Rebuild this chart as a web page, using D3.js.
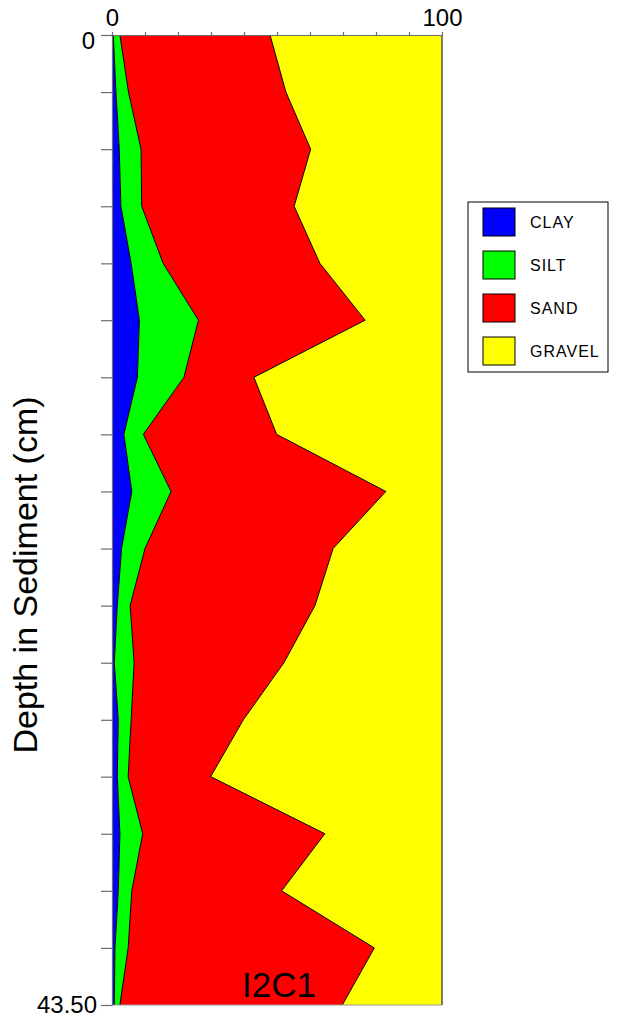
<!DOCTYPE html>
<html>
<head>
<meta charset="utf-8">
<title>I2C1 grain size</title>
<style type="text/css">
body { margin:0; background:#fff; }
text { font-family: "Liberation Sans", Arial, Helvetica, sans-serif; fill:#000; }
.axis path, .axis line { stroke:#6b6b6b; stroke-width:1.2px; }
.axis text { font-size:24px; }
.boundary { fill:none; stroke:#000; stroke-width:1px; }
.legend rect { stroke:#000; stroke-width:1px; }
.legend text { font-size:16px; letter-spacing:1px; }
</style>
</head>
<body>
<div id="chart"></div>
<script src="https://cdn.jsdelivr.net/npm/d3@7"></script>
<script type="text/javascript">

// sample depths (cm)
var depths = [0, 2.56, 5.12, 7.68, 10.24, 12.79, 15.35, 17.91, 20.47, 23.03, 25.59, 28.15, 30.71, 33.26, 35.82, 38.38, 40.94, 43.50];

// percentages per sample
var clay   = [0.4, 1.2, 2.2, 2.7, 5.8, 8.3, 7.7, 3.6, 6.0, 2.9, 1.6, 0.7, 1.9, 1.6, 2.4, 1.9, 0.9, 0.7];
var silt   = [2.0, 3.8, 6.6, 6.3, 9.7, 17.9, 14.1, 5.9, 11.9, 7.1, 3.9, 6.0, 3.9, 3.3, 6.9, 4.1, 4.0, 1.7];
var sand   = [45.5, 47.7, 51.4, 46.2, 47.5, 50.5, 21.2, 40.4, 65.1, 57.0, 56.0, 45.4, 34.0, 25.0, 55.2, 45.4, 74.6, 67.4];
var gravel = [52.1, 47.3, 39.8, 44.8, 37.0, 23.3, 57.0, 50.1, 17.0, 33.0, 38.5, 47.9, 60.2, 70.1, 35.5, 48.6, 20.5, 30.2];

var classes = ["CLAY", "SILT", "SAND", "GRAVEL"];
var colors = ["#0000ff", "#00ff00", "#ff0000", "#ffff00"];
var xTicks = [0, 10, 20, 30, 40, 50, 60, 70, 80, 90, 100];
var coreName = "I2C1";
var yTitle = "Depth in Sediment (cm)";

var rows = depths.map(function(d, i){
	return {depth:d, CLAY:clay[i], SILT:silt[i], SAND:sand[i], GRAVEL:gravel[i]};
});

var width = 627, height = 1018;
var plot = {left:112, right:442, top:35, bottom:1005};

var x = d3.scaleLinear().domain([0, 100]).range([plot.left, plot.right]);
var y = d3.scaleLinear().domain([0, 43.5]).range([plot.top, plot.bottom]);
var color = d3.scaleOrdinal().domain(classes).range(colors);

var svg = d3.select("#chart").append("svg")
	.attr("width", width)
	.attr("height", height);

var series = d3.stack().keys(classes)(rows);

var area = d3.area()
	.y(function(d){ return y(d.data.depth); })
	.x0(function(d){ return x(d[0]); })
	.x1(function(d){ return x(d[1]); });

svg.selectAll(".layer")
	.data(series)
	.enter().append("path")
	.attr("class", "layer")
	.attr("fill", function(d){ return color(d.key); })
	.attr("d", area);

var edge = d3.line()
	.x(function(d){ return x(d[1]); })
	.y(function(d){ return y(d.data.depth); });

svg.selectAll(".boundary")
	.data(series.slice(0, 3))
	.enter().append("path")
	.attr("class", "boundary")
	.attr("d", edge);

// frame right + bottom
svg.append("line")
	.attr("x1", x(100)).attr("x2", x(100))
	.attr("y1", y(0)).attr("y2", y(43.5))
	.attr("stroke", "#4d5060").attr("stroke-width", 1.5);
svg.append("line")
	.attr("x1", x(0)).attr("x2", x(100))
	.attr("y1", y(43.5)).attr("y2", y(43.5))
	.attr("stroke", "#9a9a9a").attr("stroke-width", 1);

// top axis
svg.append("g")
	.attr("class", "axis")
	.attr("transform", "translate(0," + plot.top + ")")
	.call(d3.axisTop(x)
		.tickValues(xTicks)
		.tickSize(3)
		.tickSizeOuter(0)
		.tickPadding(6)
		.tickFormat(function(d){ return (d == 0 || d == 100) ? d : ""; }));

// left axis
var yAxis = svg.append("g")
	.attr("class", "axis")
	.attr("transform", "translate(" + plot.left + ",0)")
	.call(d3.axisLeft(y)
		.tickValues(depths)
		.tickSize(11)
		.tickSizeOuter(0)
		.tickPadding(4)
		.tickFormat(function(d, i){
			if (i == 0) return "0";
			if (i == depths.length - 1) return d3.format(".2f")(d);
			return "";
		}));

// the top depth label sits a little below its tick
yAxis.selectAll(".tick text")
	.filter(function(d, i){ return i == 0; })
	.attr("dy", "0.55em")
	.attr("x", -17);

svg.append("text")
	.attr("transform", "translate(37," + 575 + ")rotate(-90)")
	.attr("text-anchor", "middle")
	.style("font-size", "34px")
	.text(yTitle);

svg.append("text")
	.attr("x", 279)
	.attr("y", 997)
	.attr("text-anchor", "middle")
	.style("font-size", "35px")
	.text(coreName);

// legend
var legend = svg.append("g")
	.attr("class", "legend")
	.attr("transform", "translate(468,202)");

legend.append("rect")
	.attr("width", 140)
	.attr("height", 170)
	.attr("fill", "none");

var item = legend.selectAll(".item")
	.data(classes)
	.enter().append("g")
	.attr("class", "item")
	.attr("transform", function(d, i){ return "translate(15," + (6 + i * 43) + ")"; });

item.append("rect")
	.attr("width", 32)
	.attr("height", 28)
	.attr("fill", function(d){ return color(d); });

item.append("text")
	.attr("x", 47)
	.attr("y", 20)
	.text(String);

</script>
</body>
</html>
